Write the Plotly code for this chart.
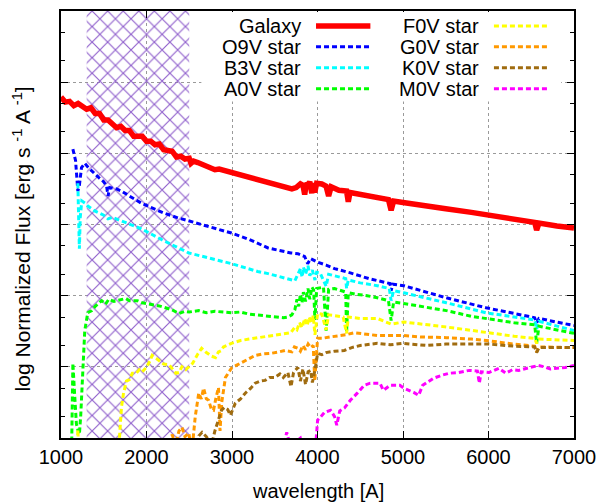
import plotly.graph_objects as go

# ---- spectra: wavelength [A] and log10 normalized flux (arbitrary offsets) ----
galaxy_wl = [1000, 1050, 1100, 1150, 1200, 1250, 1300, 1350, 1400, 1450, 1500, 1550,
             1600, 1650, 1700, 1750, 1800, 1850, 1900, 1950, 2000, 2050, 2100, 2150,
             2200, 2250, 2300, 2350, 2400, 2450, 2500, 2520, 2550, 2600, 2700, 2800,
             2850, 3000, 3200, 3400, 3600, 3700, 3750, 3800, 3830, 3850, 3870, 3890,
             3910, 3933, 3950, 3968, 3990, 4050, 4100, 4130, 4160, 4250, 4340, 4360,
             4380, 4500, 4700, 4830, 4861, 4890, 5000, 5200, 5500, 5800, 6000, 6300,
             6540, 6563, 6590, 6800, 7000]
galaxy_lf = [4.79, 4.72, 4.73, 4.67, 4.70, 4.66, 4.62, 4.64, 4.56, 4.56, 4.47, 4.47,
             4.42, 4.36, 4.38, 4.32, 4.32, 4.24, 4.24, 4.24, 4.17, 4.17, 4.12, 4.13,
             4.05, 4.04, 4.03, 3.95, 3.96, 3.92, 3.93, 3.86, 3.89, 3.87, 3.82, 3.77,
             3.78, 3.73, 3.66, 3.59, 3.53, 3.50, 3.52, 3.57, 3.55, 3.42, 3.58, 3.56,
             3.60, 3.44, 3.58, 3.45, 3.58, 3.57, 3.54, 3.40, 3.53, 3.48, 3.47, 3.32,
             3.45, 3.42, 3.38, 3.35, 3.20, 3.33, 3.31, 3.27, 3.22, 3.17, 3.13, 3.08,
             3.03, 2.92, 3.02, 2.98, 2.95]

o9v_wl = [1139, 1170, 1197, 1215, 1240, 1278, 1320, 1394, 1450, 1500, 1533, 1550,
          1570, 1650, 1707, 1800, 1939, 2050, 2205, 2350, 2495, 2750, 2993, 3200,
          3422, 3688, 3770, 3850, 3885, 3920, 4001, 4100, 4200, 4384, 4600, 4847,
          4861, 4880, 5009, 5507, 5971, 6300, 6540, 6563, 6590, 7000]
o9v_lf = [4.06, 3.90, 3.47, 3.55, 3.80, 3.86, 3.80, 3.71, 3.65, 3.60, 3.54, 3.40,
          3.52, 3.50, 3.47, 3.40, 3.30, 3.24, 3.16, 3.10, 3.05, 2.96, 2.88, 2.79,
          2.67, 2.60, 2.59, 2.55, 2.45, 2.52, 2.47, 2.43, 2.38, 2.32, 2.24, 2.17,
          2.07, 2.16, 2.14, 1.97, 1.83, 1.75, 1.69, 1.62, 1.68, 1.58]

b3v_wl = [1197, 1205, 1215, 1225, 1243, 1280, 1313, 1394, 1500, 1550, 1600, 1707,
          1939, 2205, 2495, 2993, 3300, 3422, 3619, 3688, 3735, 3770, 3800, 3820,
          3835, 3860, 3889, 3910, 3940, 3970, 3990, 4030, 4101, 4130, 4200, 4330,
          4340, 4360, 4500, 4700, 4840, 4861, 4890, 5009, 5507, 5971, 6300, 6540,
          6563, 6590, 7000]
b3v_lf = [3.58, 3.00, 2.66, 3.10, 3.33, 3.30, 3.26, 3.19, 3.13, 3.08, 3.10, 3.05,
          2.94, 2.77, 2.60, 2.45, 2.34, 2.31, 2.25, 2.22, 2.21, 2.30, 2.38, 2.26,
          2.40, 2.30, 2.42, 2.28, 2.36, 2.22, 2.33, 2.32, 2.13, 2.30, 2.28, 2.24,
          2.10, 2.22, 2.18, 2.14, 2.10, 1.93, 2.07, 2.04, 1.90, 1.76, 1.70, 1.66,
          1.53, 1.64, 1.51]

a0v_wl = [1120, 1139, 1160, 1180, 1200, 1215, 1230, 1255, 1278, 1313, 1360, 1400,
          1475, 1520, 1560, 1620, 1707, 1760, 1800, 1892, 1950, 2050, 2112, 2170,
          2250, 2300, 2379, 2450, 2500, 2611, 2700, 2800, 2993, 3100, 3200, 3387,
          3500, 3600, 3654, 3700, 3735, 3760, 3780, 3800, 3820, 3835, 3860, 3889,
          3910, 3935, 3955, 3970, 3990, 4030, 4070, 4101, 4130, 4200, 4280, 4330,
          4340, 4360, 4450, 4581, 4700, 4830, 4861, 4890, 5009, 5300, 5507, 5800,
          5971, 6300, 6540, 6563, 6590, 7000]
a0v_lf = [-0.50, 1.05, 0.60, 0.20, 0.10, 0.05, 0.30, 1.00, 1.51, 1.76, 1.79, 1.85,
          1.93, 1.88, 1.95, 1.92, 1.94, 1.96, 1.93, 1.93, 1.90, 1.88, 1.86, 1.85,
          1.82, 1.80, 1.75, 1.78, 1.77, 1.79, 1.76, 1.78, 1.76, 1.77, 1.74, 1.72,
          1.70, 1.69, 1.70, 1.73, 1.80, 1.95, 1.85, 2.02, 1.90, 2.05, 1.92, 2.10,
          1.95, 2.12, 2.08, 1.66, 2.10, 2.11, 2.12, 1.51, 2.09, 2.10, 2.07, 2.05,
          1.48, 2.04, 2.02, 2.00, 1.97, 1.93, 1.65, 1.91, 1.89, 1.83, 1.79, 1.71,
          1.68, 1.62, 1.59, 1.33, 1.57, 1.47]

f0v_wl = [1185, 1197, 1210, 1650, 1684, 1707, 1730, 1765, 1800, 1834, 1881, 1915,
          1950, 1997, 2040, 2066, 2112, 2147, 2200, 2263, 2300, 2344, 2379, 2414,
          2460, 2495, 2540, 2600, 2645, 2700, 2761, 2807, 2842, 2877, 2900, 2993,
          3100, 3200, 3306, 3400, 3503, 3600, 3688, 3730, 3760, 3790, 3820, 3850,
          3880, 3900, 3930, 3950, 3970, 4001, 4050, 4101, 4130, 4200, 4300, 4340,
          4360, 4500, 4700, 4861, 5009, 5507, 5971, 6300, 6540, 6563, 6590, 7000]
f0v_lf = [-0.30, 0.12, -0.30, -0.50, 0.00, 0.43, 0.62, 0.80, 0.82, 0.91, 0.91, 0.96,
          0.93, 0.99, 1.08, 1.16, 1.12, 1.09, 1.04, 1.03, 0.97, 0.91, 0.92, 1.00,
          0.96, 1.00, 1.05, 1.18, 1.26, 1.20, 1.15, 1.13, 1.21, 1.23, 1.28, 1.33,
          1.37, 1.39, 1.41, 1.42, 1.44, 1.46, 1.48, 1.55, 1.52, 1.62, 1.55, 1.68,
          1.58, 1.70, 1.62, 1.72, 1.45, 1.75, 1.74, 1.52, 1.73, 1.72, 1.70, 1.47,
          1.70, 1.68, 1.68, 1.60, 1.63, 1.56, 1.48, 1.43, 1.40, 1.33, 1.39, 1.37]

g0v_wl = [2250, 2300, 2340, 2380, 2414, 2450, 2495, 2530, 2570, 2611, 2640, 2668,
          2700, 2726, 2760, 2784, 2810, 2842, 2860, 2880, 2923, 2960, 2993, 3050,
          3100, 3155, 3200, 3271, 3350, 3457, 3550, 3619, 3700, 3730, 3770, 3800,
          3830, 3860, 3890, 3920, 3950, 3968, 4001, 4050, 4150, 4268, 4330, 4430,
          4550, 4700, 4850, 5009, 5200, 5507, 5800, 5971, 6300, 6540, 6563, 6590,
          7000]
g0v_lf = [-0.30, 0.05, -0.10, 0.10, 0.15, 0.02, 0.07, -0.20, 0.30, 0.63, 0.55, 0.70,
          0.55, 0.53, 0.40, 0.39, 0.55, 0.71, 0.10, 0.50, 0.85, 0.93, 0.98, 1.02,
          1.05, 1.09, 1.12, 1.16, 1.18, 1.19, 1.21, 1.23, 1.21, 1.28, 1.26, 1.22,
          1.30, 1.24, 1.32, 1.27, 1.30, 0.80, 1.40, 1.40, 1.42, 1.44, 1.45, 1.48,
          1.46, 1.44, 1.44, 1.44, 1.42, 1.41, 1.39, 1.37, 1.32, 1.29, 1.21, 1.28,
          1.27]

k0v_wl = [2550, 2611, 2650, 2700, 2760, 2800, 2840, 2877, 2910, 2950, 2981, 3010,
          3039, 3100, 3155, 3220, 3271, 3330, 3387, 3440, 3503, 3560, 3600, 3654,
          3690, 3720, 3770, 3800, 3830, 3860, 3890, 3920, 3940, 3970, 4001, 4050,
          4100, 4200, 4314, 4400, 4500, 4700, 4850, 5000, 5200, 5276, 5500, 6000,
          6300, 6540, 6563, 6590, 7000]
k0v_lf = [-0.30, 0.03, 0.08, 0.02, -0.10, 0.10, 0.25, 0.39, 0.43, 0.40, 0.32, 0.40,
          0.49, 0.55, 0.63, 0.70, 0.77, 0.80, 0.81, 0.85, 0.85, 0.90, 0.85, 0.92,
          0.72, 0.92, 0.99, 0.80, 0.97, 0.75, 0.93, 0.95, 0.78, 0.95, 1.19, 1.17,
          1.20, 1.22, 1.23, 1.27, 1.30, 1.33, 1.31, 1.33, 1.31, 1.30, 1.32, 1.32,
          1.29, 1.28, 1.20, 1.27, 1.27]

m0v_wl = [3550, 3640, 3680, 3750, 3800, 3850, 3960, 3990, 4001, 4040, 4082, 4152,
          4200, 4225, 4260, 4314, 4384, 4465, 4546, 4616, 4731, 4770, 4847, 4963,
          5009, 5125, 5183, 5230, 5357, 5450, 5542, 5650, 5774, 5870, 5893, 5915,
          6006, 6122, 6203, 6280, 6354, 6450, 6585, 6650, 6724, 6800, 6898, 7000]
m0v_lf = [-0.40, 0.08, -0.10, -0.05, 0.00, -0.20, -0.40, 0.10, 0.25, 0.30, 0.36, 0.39,
          0.30, 0.18, 0.38, 0.42, 0.53, 0.63, 0.74, 0.77, 0.77, 0.67, 0.74, 0.74,
          0.70, 0.64, 0.60, 0.74, 0.84, 0.88, 0.91, 0.92, 0.95, 0.94, 0.77, 0.93,
          0.92, 0.98, 0.91, 0.96, 0.95, 0.98, 1.02, 1.00, 0.97, 0.98, 0.99, 1.02]

# masked UV window
mask_lo, mask_hi = 1300, 2500

x_ticks = [1000, 2000, 3000, 4000, 5000, 6000, 7000]
x_range = [1000, 7000]
y_range = [0, 6]

FONT = "Liberation Sans, Arial, Helvetica, sans-serif"
DASH = "5px,3px"

series = [
    ("Galaxy", galaxy_wl, galaxy_lf, "#ff0000", 5.5, "solid"),
    ("O9V star", o9v_wl, o9v_lf, "#0000ff", 3, DASH),
    ("B3V star", b3v_wl, b3v_lf, "#00ffff", 3, DASH),
    ("A0V star", a0v_wl, a0v_lf, "#00ff00", 3, DASH),
    ("F0V star", f0v_wl, f0v_lf, "#ffff00", 3, DASH),
    ("G0V star", g0v_wl, g0v_lf, "#ff9900", 3, DASH),
    ("K0V star", k0v_wl, k0v_lf, "#a06c10", 3, DASH),
    ("M0V star", m0v_wl, m0v_lf, "#ff00ff", 3, DASH),
]

fig = go.Figure()

# cross-hatched band
fig.add_trace(go.Scatter(
    x=[mask_lo, mask_hi, mask_hi, mask_lo, mask_lo],
    y=[y_range[0], y_range[0], y_range[1], y_range[1], y_range[0]],
    fill="toself", mode="lines", line=dict(width=0),
    fillcolor="rgba(0,0,0,0)",
    fillpattern=dict(shape="x", fgcolor="#9060cc", fgopacity=1,
                     bgcolor="rgba(0,0,0,0)", size=11, solidity=0.2),
    showlegend=False, hoverinfo="skip"))

for name, wl, lf, color, width, dash in series:
    fig.add_trace(go.Scatter(x=wl, y=lf, mode="lines", name=name,
                             line=dict(color=color, width=width, dash=dash),
                             showlegend=False))

# plot-area geometry in pixels (for key placement)
L, R, T, B = 61, 580, 9, 438


def px(xp):
    return (xp - L) / (R - L)


def py(yp):
    return (B - yp) / (B - T)


shapes = [dict(type="rect", xref="paper", yref="paper",
               x0=px(203), x1=px(567), y0=py(100), y1=py(T + 1),
               fillcolor="white", line=dict(width=0), layer="above")]
annotations = []
rows = [24, 45, 66, 87]
cols = [(306, 319, 374), (486, 499, 553)]
for i, (name, wl, lf, color, width, dash) in enumerate(series):
    tx, s0, s1 = cols[i // 4]
    yy = rows[i % 4]
    annotations.append(dict(x=px(tx), y=py(yy), xref="paper", yref="paper",
                            text=name, showarrow=False, xanchor="right",
                            yanchor="middle", font=dict(size=20, color="black", family=FONT)))
    shapes.append(dict(type="line", xref="paper", yref="paper",
                       x0=px(s0), x1=px(s1), y0=py(yy), y1=py(yy),
                       line=dict(color=color, width=width, dash=dash), layer="above"))

annotations.append(dict(x=px(321), y=py(491), xref="paper", yref="paper",
                        text="wavelength [A]", showarrow=False,
                        xanchor="center", yanchor="middle",
                        font=dict(size=20, color="black", family=FONT)))
annotations.append(dict(x=px(21), y=py(238), xref="paper", yref="paper",
                        text="log Normalized Flux [erg s <sup>-1</sup> A <sup>-1</sup>]",
                        showarrow=False, textangle=-90,
                        xanchor="center", yanchor="middle",
                        font=dict(size=21, color="black", family=FONT)))

minor_y = []
for k in range(6):
    minor_y += [k + 0.30103, k + 0.69897]

fig.update_layout(
    width=605, height=503,
    margin=dict(l=L, r=605 - R, t=T, b=503 - B),
    paper_bgcolor="white", plot_bgcolor="white",
    shapes=shapes, annotations=annotations,
    font=dict(family=FONT, size=20, color="black"),
    xaxis=dict(range=x_range, tickvals=x_ticks,
               ticks="inside", ticklen=7, tickwidth=1, tickcolor="black",
               showline=True, linecolor="black", linewidth=2, mirror="allticks",
               showgrid=True, gridcolor="#9a9a9a", griddash="dot", gridwidth=1,
               zeroline=False, tickfont=dict(size=20, family=FONT)),
    yaxis=dict(range=y_range, tickvals=list(range(7)), showticklabels=False,
               ticks="inside", ticklen=7, tickwidth=1, tickcolor="black",
               showline=True, linecolor="black", linewidth=2, mirror="allticks",
               showgrid=True, gridcolor="#9a9a9a", griddash="dot", gridwidth=1,
               zeroline=False,
               minor=dict(tickvals=minor_y, ticks="inside", ticklen=4,
                          tickcolor="black", showgrid=False)),
)

fig.write_html("out.html")
